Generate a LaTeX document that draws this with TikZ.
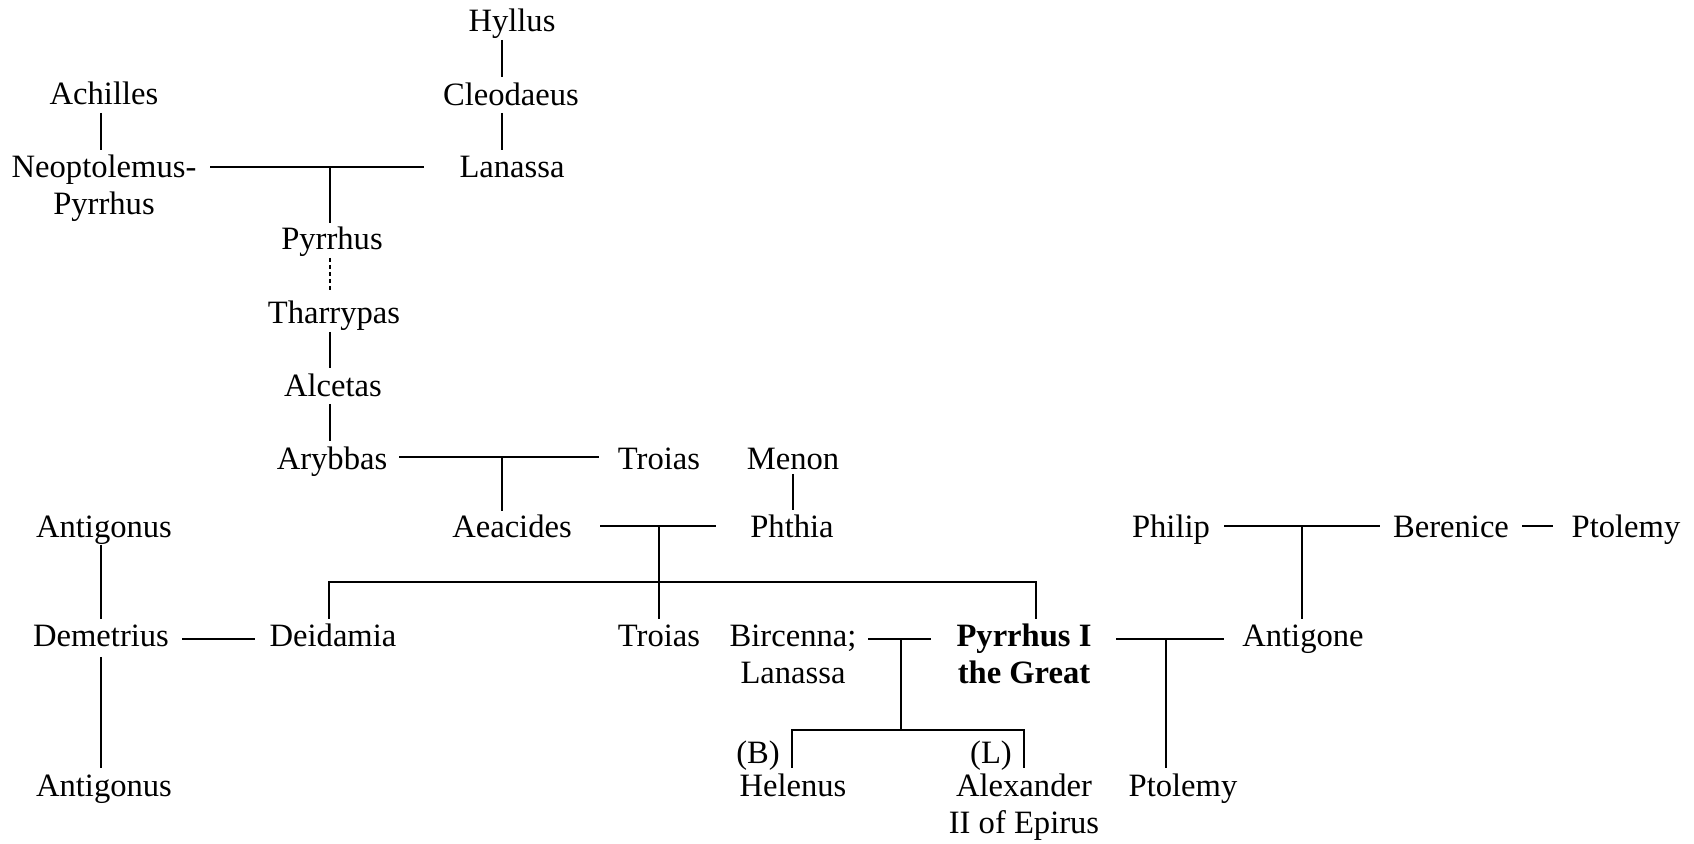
\documentclass[tikz,border=0pt]{standalone}
\usepackage{fontspec}
\setmainfont{Liberation Serif}
\usetikzlibrary{calc}
\newcommand\twoline[2]{\begin{tabular}[t]{@{}c@{}}#1\\#2\end{tabular}}
\begin{document}
\begin{tikzpicture}[x=0.5pt,y=-0.5pt,
  person/.style={anchor=base, inner sep=0pt, font=\fontsize{16.3pt}{18.5pt}\selectfont},
  link/.style={line width=1pt},
  dots/.style={line width=1pt, dash pattern=on 2pt off 1.5pt}]
\useasboundingbox (0,0) rectangle (1694,844);
% nodes
\node[person] (hyllus) at (512,32) {Hyllus};
\node[person] (cleodaeus) at (511,106) {Cleodaeus};
\node[person] (lanassaA) at (512,178) {Lanassa};
\node[person] (achilles) at (104,105) {Achilles};
\node[person] (neopt) at (104,178) {\twoline{Neoptolemus-}{Pyrrhus}};
\node[person] (pyrrhus) at (332,250) {Pyrrhus};
\node[person] (tharrypas) at (334,324) {Tharrypas};
\node[person] (alcetas) at (333,397) {Alcetas};
\node[person] (arybbas) at (332,470) {Arybbas};
\node[person] (troiasA) at (659,470) {Troias};
\node[person] (menon) at (793,470) {Menon};
\node[person] (antigonusA) at (104,538) {Antigonus};
\node[person] (aeacides) at (512,538) {Aeacides};
\node[person] (phthia) at (792,538) {Phthia};
\node[person] (philip) at (1171,538) {Philip};
\node[person] (berenice) at (1451,538) {Berenice};
\node[person] (ptolemyA) at (1626,538) {Ptolemy};
\node[person] (demetrius) at (101,647) {Demetrius};
\node[person] (deidamia) at (333,647) {Deidamia};
\node[person] (troiasB) at (659,647) {Troias};
\node[person] (bircenna) at (793,647) {\twoline{Bircenna;}{Lanassa}};
\node[person] (pyrrhusI) at (1024,647) {\bfseries\twoline{Pyrrhus I}{the Great}};
\node[person] (antigone) at (1303,647) {Antigone};
\node[person] (antigonusB) at (104,797) {Antigonus};
\node[person] (bmark) at (758,763) {(B)};
\node[person] (lmark) at (991,763) {(L)};
\node[person] (helenus) at (793,797) {Helenus};
\node[person] (alexander) at (1024,797) {\twoline{Alexander}{II of Epirus}};
\node[person] (ptolemyB) at (1183,797) {Ptolemy};
% junctions
\coordinate (c1) at (330,167);
\coordinate (c2) at (502,457);
\coordinate (c3) at (659,526);
\coordinate (bar1) at (659,582);
\coordinate (c4) at (901,639);
\coordinate (bar2) at (901,730);
\coordinate (c5) at (1166,639);
\coordinate (c6) at (1302,526);
% connectors
\draw[link] ($(hyllus.base)+(-10,8)$) -- ($(cleodaeus.base)+(-9,-29)$);
\draw[link] ($(cleodaeus.base)+(-9,7)$) -- ($(lanassaA.base)+(-10,-28)$);
\draw[link] ($(achilles.base)+(-3,8)$) -- ($(neopt.base)+(-3,-28)$);
\draw[link] ($(neopt.base)+(106,-11)$) -- ($(lanassaA.base)+(-88,-11)$);
\draw[link] (c1) -- ($(pyrrhus.base)+(-2,-27)$);
\draw[dots] ($(pyrrhus.base)+(-2,8)$) -- ($(tharrypas.base)+(-4,-31)$);
\draw[link] ($(tharrypas.base)+(-4,8)$) -- ($(alcetas.base)+(-3,-29)$);
\draw[link] ($(alcetas.base)+(-3,7)$) -- ($(arybbas.base)+(-2,-29)$);
\draw[link] ($(arybbas.base)+(67,-13)$) -- ($(troiasA.base)+(-60,-13)$);
\draw[link] (c2) -- ($(aeacides.base)+(-10,-27)$);
\draw[link] ($(menon.base)+(0,4)$) -- ($(phthia.base)+(1,-28)$);
\draw[link] ($(aeacides.base)+(88,-12)$) -- ($(phthia.base)+(-76,-12)$);
\draw[link] (c3) -- ($(troiasB.base)+(0,-28)$);
\draw[link] ($(deidamia.base)+(-4,-28)$) |- (bar1) -| ($(pyrrhusI.base)+(12,-28)$);
\draw[link] ($(antigonusA.base)+(-3,7)$) -- ($(demetrius.base)+(0,-28)$);
\draw[link] ($(demetrius.base)+(81,-8)$) -- ($(deidamia.base)+(-78,-8)$);
\draw[link] ($(demetrius.base)+(0,10)$) -- ($(antigonusB.base)+(-3,-29)$);
\draw[link] ($(bircenna.base)+(75,-8)$) -- ($(pyrrhusI.base)+(-93,-8)$);
\draw[link] (c4) -- (bar2);
\draw[link] ($(helenus.base)+(-1,-29)$) |- (bar2) -| ($(alexander.base)+(0,-29)$);
\draw[link] ($(pyrrhusI.base)+(92,-8)$) -- ($(antigone.base)+(-79,-8)$);
\draw[link] (c5) -- ($(ptolemyB.base)+(-17,-29)$);
\draw[link] ($(philip.base)+(53,-12)$) -- ($(berenice.base)+(-71,-12)$);
\draw[link] (c6) -- ($(antigone.base)+(-1,-28)$);
\draw[link] ($(berenice.base)+(71,-12)$) -- ($(ptolemyA.base)+(-73,-12)$);
\end{tikzpicture}
\end{document}
